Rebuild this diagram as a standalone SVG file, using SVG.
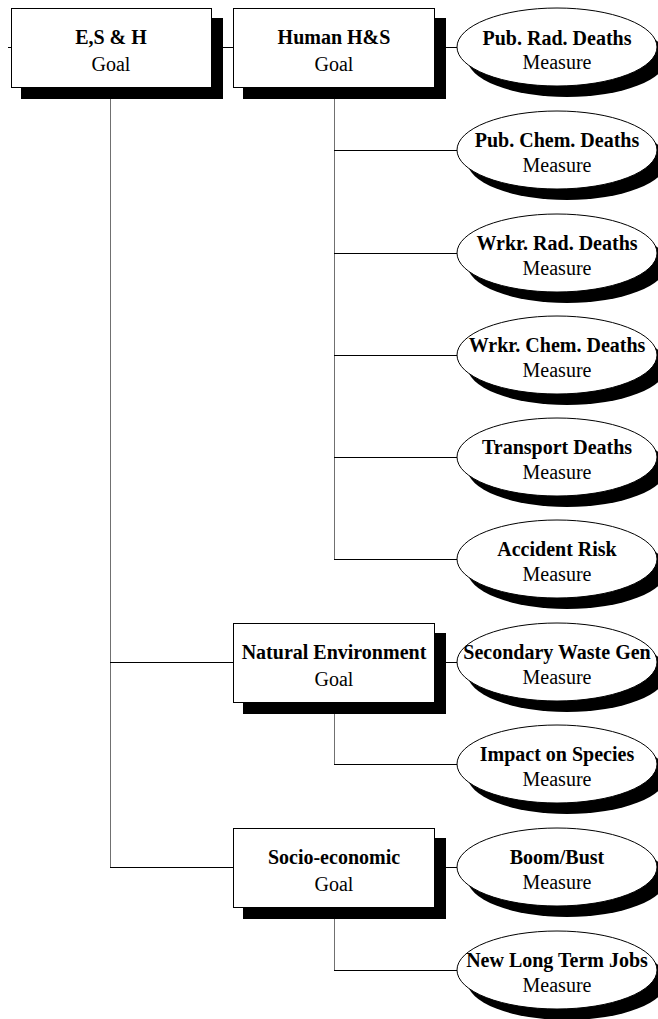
<svg xmlns="http://www.w3.org/2000/svg" width="658" height="1019" viewBox="0 0 658 1019">
<style>
.shadow{fill:#000;stroke:none}
.box{fill:#fff;stroke:#000;stroke-width:1}
.ell{fill:#fff;stroke:#000;stroke-width:1}
.h{stroke:#000;stroke-width:1;fill:none}
.v{stroke:#707070;stroke-width:1;fill:none}
text{font-family:"Liberation Serif","Times New Roman",serif;font-size:20px;text-anchor:middle;fill:#000}
.t{font-weight:bold}
</style>
<rect width="658" height="1019" fill="#fff"/>
<g id="connectors">
<line class="h" x1="8" y1="47.5" x2="11" y2="47.5"/>
<line class="h" x1="223" y1="47.5" x2="233" y2="47.5"/>
<line class="h" x1="446" y1="47.5" x2="457" y2="47.5"/>
<line class="v" x1="110.5" y1="99" x2="110.5" y2="867.5"/>
<line class="h" x1="110" y1="662.5" x2="233" y2="662.5"/>
<line class="h" x1="110" y1="867.5" x2="233" y2="867.5"/>
<line class="v" x1="334.5" y1="99" x2="334.5" y2="559.5"/>
<line class="h" x1="334" y1="150.5" x2="457" y2="150.5"/>
<line class="h" x1="334" y1="253.5" x2="457" y2="253.5"/>
<line class="h" x1="334" y1="355.5" x2="457" y2="355.5"/>
<line class="h" x1="334" y1="457.5" x2="457" y2="457.5"/>
<line class="h" x1="334" y1="559.5" x2="457" y2="559.5"/>
<line class="h" x1="446" y1="662.5" x2="457" y2="662.5"/>
<line class="v" x1="334.5" y1="714" x2="334.5" y2="764.5"/>
<line class="h" x1="334" y1="764.5" x2="457" y2="764.5"/>
<line class="h" x1="446" y1="867.5" x2="457" y2="867.5"/>
<line class="v" x1="334.5" y1="919" x2="334.5" y2="970.5"/>
<line class="h" x1="334" y1="970.5" x2="457" y2="970.5"/>
</g>
<g id="esh">
<rect class="shadow" x="21" y="18" width="202" height="81"/>
<rect class="box" x="11.5" y="8.5" width="200" height="79"/>
<text class="t" x="111" y="44">E,S &amp; H</text>
<text x="111" y="71">Goal</text>
</g>
<g id="human">
<rect class="shadow" x="243" y="18" width="203" height="81"/>
<rect class="box" x="233.5" y="8.5" width="201" height="79"/>
<text class="t" x="334" y="44">Human H&amp;S</text>
<text x="334" y="71">Goal</text>
</g>
<g id="natenv">
<rect class="shadow" x="243" y="633" width="203" height="81"/>
<rect class="box" x="233.5" y="623.5" width="201" height="79"/>
<text class="t" x="334" y="659">Natural Environment</text>
<text x="334" y="686">Goal</text>
</g>
<g id="socio">
<rect class="shadow" x="243" y="838" width="203" height="81"/>
<rect class="box" x="233.5" y="828.5" width="201" height="79"/>
<text class="t" x="334" y="864">Socio-economic</text>
<text x="334" y="891">Goal</text>
</g>
<g id="m1">
<ellipse class="shadow" cx="567" cy="58" rx="100" ry="39"/>
<ellipse class="ell" cx="557" cy="47" rx="100" ry="39"/>
<text class="t" x="557" y="45">Pub. Rad. Deaths</text>
<text x="557" y="69">Measure</text>
</g>
<g id="m2">
<ellipse class="shadow" cx="567" cy="161" rx="100" ry="39"/>
<ellipse class="ell" cx="557" cy="150" rx="100" ry="39"/>
<text class="t" x="557" y="147">Pub. Chem. Deaths</text>
<text x="557" y="172">Measure</text>
</g>
<g id="m3">
<ellipse class="shadow" cx="567" cy="264" rx="100" ry="39"/>
<ellipse class="ell" cx="557" cy="253" rx="100" ry="39"/>
<text class="t" x="557" y="250">Wrkr. Rad. Deaths</text>
<text x="557" y="275">Measure</text>
</g>
<g id="m4">
<ellipse class="shadow" cx="567" cy="366" rx="100" ry="39"/>
<ellipse class="ell" cx="557" cy="355" rx="100" ry="39"/>
<text class="t" x="557" y="352">Wrkr. Chem. Deaths</text>
<text x="557" y="377">Measure</text>
</g>
<g id="m5">
<ellipse class="shadow" cx="567" cy="468" rx="100" ry="39"/>
<ellipse class="ell" cx="557" cy="457" rx="100" ry="39"/>
<text class="t" x="557" y="454">Transport Deaths</text>
<text x="557" y="479">Measure</text>
</g>
<g id="m6">
<ellipse class="shadow" cx="567" cy="570" rx="100" ry="39"/>
<ellipse class="ell" cx="557" cy="559" rx="100" ry="39"/>
<text class="t" x="557" y="556">Accident Risk</text>
<text x="557" y="581">Measure</text>
</g>
<g id="m7">
<ellipse class="shadow" cx="567" cy="673" rx="100" ry="39"/>
<ellipse class="ell" cx="557" cy="662" rx="100" ry="39"/>
<text class="t" x="557" y="659">Secondary Waste Gen</text>
<text x="557" y="684">Measure</text>
</g>
<g id="m8">
<ellipse class="shadow" cx="567" cy="775" rx="100" ry="39"/>
<ellipse class="ell" cx="557" cy="764" rx="100" ry="39"/>
<text class="t" x="557" y="761">Impact on Species</text>
<text x="557" y="786">Measure</text>
</g>
<g id="m9">
<ellipse class="shadow" cx="567" cy="878" rx="100" ry="39"/>
<ellipse class="ell" cx="557" cy="867" rx="100" ry="39"/>
<text class="t" x="557" y="864">Boom/Bust</text>
<text x="557" y="889">Measure</text>
</g>
<g id="m10">
<ellipse class="shadow" cx="567" cy="981" rx="100" ry="39"/>
<ellipse class="ell" cx="557" cy="970" rx="100" ry="39"/>
<text class="t" x="557" y="967">New Long Term Jobs</text>
<text x="557" y="992">Measure</text>
</g>
</svg>
